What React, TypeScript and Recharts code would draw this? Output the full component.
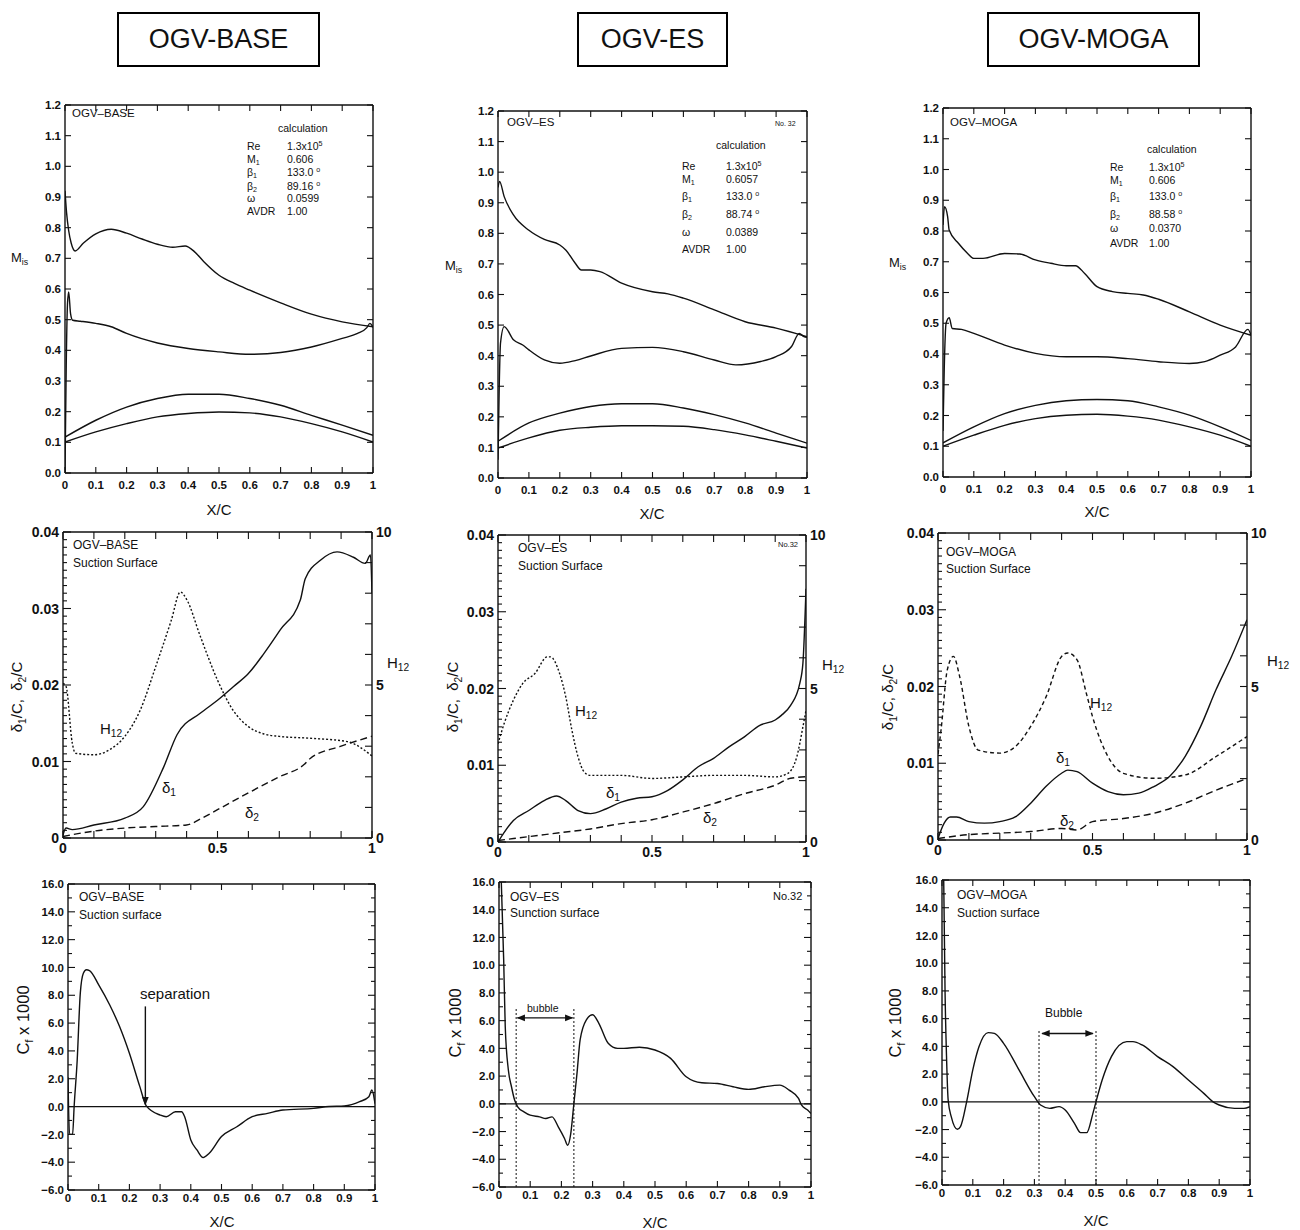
import React from "react";
import { LineChart, Line, XAxis, YAxis, ReferenceLine } from "recharts";

const FONT = '"Liberation Sans", Arial, Helvetica, sans-serif';
const INK = "#111";

// ---------- tick marks / labels ----------
const MIS_X_TICKS = [0, 0.1, 0.2, 0.3, 0.4, 0.5, 0.6, 0.7, 0.8, 0.9, 1];
const MIS_Y_TICKS = [0, 0.1, 0.2, 0.3, 0.4, 0.5, 0.6, 0.7, 0.8, 0.9, 1.0, 1.1, 1.2];
const BL_X_TICKS = [0, 0.1, 0.2, 0.3, 0.4, 0.5, 0.6, 0.7, 0.8, 0.9, 1];
const BL_X_LABELS = [0, 0.5, 1];
const BL_Y_LABELS = [0, 0.01, 0.02, 0.03, 0.04];
const H_TICKS = [0, 1, 2, 3, 4, 5, 6, 7, 8, 9, 10];
const H_LABELS = [0, 5, 10];
const CF_X_TICKS = [0, 0.1, 0.2, 0.3, 0.4, 0.5, 0.6, 0.7, 0.8, 0.9, 1];
const CF_Y_LABELS = [-6, -4, -2, 0, 2, 4, 6, 8, 10, 12, 14, 16];

const range = (a: number, b: number, step: number) => {
  const out: number[] = [];
  const n = Math.round((b - a) / step);
  for (let i = 0; i <= n; i++) out.push(+(a + i * step).toFixed(6));
  return out;
};

// ---------- top row: isentropic Mach number ----------
const PAIR_X = [0, 0.1, 0.2, 0.3, 0.4, 0.5, 0.6, 0.7, 0.8, 0.9, 1.0];

const baseSucX = [0, 0.005, 0.012, 0.02, 0.033, 0.06, 0.1, 0.15, 0.2, 0.25, 0.3, 0.35, 0.39, 0.42, 0.45, 0.5, 0.55, 0.6, 0.7, 0.8, 0.9, 1.0];
const baseSucY = [0.92, 0.85, 0.79, 0.75, 0.724, 0.75, 0.78, 0.795, 0.782, 0.763, 0.746, 0.736, 0.74, 0.722, 0.69, 0.645, 0.618, 0.596, 0.555, 0.518, 0.493, 0.477];
const basePrsX = [0, 0.004, 0.008, 0.012, 0.018, 0.025, 0.05, 0.1, 0.15, 0.2, 0.3, 0.4, 0.5, 0.6, 0.7, 0.8, 0.9, 0.95, 0.98, 0.99, 1.0];
const basePrsY = [0.0, 0.35, 0.55, 0.59, 0.52, 0.498, 0.495, 0.488, 0.477, 0.455, 0.424, 0.406, 0.395, 0.387, 0.393, 0.411, 0.439, 0.455, 0.474, 0.488, 0.475];
const baseUpY = [0.117, 0.172, 0.215, 0.243, 0.257, 0.257, 0.243, 0.221, 0.188, 0.156, 0.123];
const baseLoY = [0.101, 0.134, 0.161, 0.183, 0.194, 0.199, 0.196, 0.183, 0.161, 0.134, 0.101];

const esSucX = [0, 0.005, 0.02, 0.05, 0.1, 0.15, 0.2, 0.22, 0.25, 0.27, 0.3, 0.33, 0.4, 0.5, 0.55, 0.6, 0.7, 0.8, 0.9, 1.0];
const esSucY = [0.95, 0.97, 0.92, 0.86, 0.81, 0.78, 0.762, 0.745, 0.702, 0.68, 0.68, 0.675, 0.637, 0.609, 0.602, 0.588, 0.55, 0.511, 0.49, 0.462];
const esPrsX = [0, 0.004, 0.008, 0.02, 0.05, 0.08, 0.1, 0.15, 0.2, 0.25, 0.3, 0.4, 0.5, 0.6, 0.7, 0.77, 0.85, 0.9, 0.95, 0.975, 0.99, 1.0];
const esPrsY = [0.06, 0.3, 0.44, 0.495, 0.452, 0.435, 0.419, 0.386, 0.375, 0.384, 0.399, 0.424, 0.427, 0.413, 0.386, 0.37, 0.381, 0.397, 0.43, 0.473, 0.462, 0.46];
const esUpY = [0.12, 0.18, 0.212, 0.234, 0.243, 0.243, 0.229, 0.207, 0.18, 0.147, 0.114];
const esLoY = [0.098, 0.131, 0.156, 0.166, 0.171, 0.171, 0.169, 0.158, 0.141, 0.12, 0.098];

const mogaSucX = [0, 0.005, 0.015, 0.02, 0.05, 0.08, 0.1, 0.13, 0.2, 0.25, 0.3, 0.35, 0.4, 0.43, 0.46, 0.5, 0.55, 0.6, 0.65, 0.7, 0.8, 0.9, 1.0];
const mogaSucY = [0.82, 0.879, 0.847, 0.803, 0.76, 0.727, 0.711, 0.711, 0.727, 0.725, 0.706, 0.695, 0.687, 0.687, 0.662, 0.619, 0.603, 0.597, 0.592, 0.578, 0.537, 0.494, 0.461];
const mogaPrsX = [0, 0.004, 0.01, 0.02, 0.03, 0.06, 0.1, 0.2, 0.3, 0.4, 0.5, 0.6, 0.7, 0.8, 0.85, 0.9, 0.95, 0.99, 1.0];
const mogaPrsY = [0.15, 0.35, 0.5, 0.518, 0.483, 0.48, 0.467, 0.429, 0.402, 0.391, 0.391, 0.385, 0.375, 0.369, 0.375, 0.396, 0.423, 0.48, 0.461];
const mogaUpY = [0.111, 0.163, 0.206, 0.233, 0.248, 0.252, 0.248, 0.228, 0.201, 0.163, 0.119];
const mogaLoY = [0.1, 0.136, 0.168, 0.19, 0.201, 0.204, 0.198, 0.185, 0.163, 0.136, 0.1];

// ---------- middle row: boundary layer, suction surface ----------
const baseD1X = [0, 0.01, 0.03, 0.1, 0.2, 0.26, 0.326, 0.369, 0.444, 0.5, 0.552, 0.6, 0.65, 0.703, 0.768, 0.784, 0.833, 0.887, 0.94, 0.978, 0.995, 1.0];
const baseD1Y = [0.0004, 0.0013, 0.0011, 0.0017, 0.0026, 0.0041, 0.0093, 0.0135, 0.0163, 0.018, 0.0198, 0.0215, 0.0241, 0.0272, 0.0311, 0.0339, 0.0363, 0.0374, 0.0367, 0.0359, 0.037, 0.032];
const baseD2X = [0, 0.1, 0.2, 0.3, 0.4, 0.45, 0.5, 0.6, 0.7, 0.78, 0.8, 0.9, 1.0];
const baseD2Y = [0.0002, 0.0009, 0.0013, 0.0015, 0.0017, 0.0026, 0.0037, 0.0059, 0.008, 0.0096, 0.0104, 0.012, 0.0133];
const baseHX = [0, 0.01, 0.03, 0.04, 0.1, 0.15, 0.2, 0.25, 0.3, 0.35, 0.38, 0.4, 0.444, 0.5, 0.55, 0.6, 0.65, 0.7, 0.8, 0.92, 1.0];
const baseHY = [5.05, 4.95, 3.1, 2.77, 2.72, 2.88, 3.32, 4.18, 5.6, 7.1, 8.04, 7.8, 6.6, 5.16, 4.18, 3.64, 3.4, 3.32, 3.26, 3.15, 2.68];

const esD1X = [0, 0.05, 0.1, 0.15, 0.19, 0.22, 0.26, 0.3, 0.35, 0.4, 0.45, 0.5, 0.55, 0.6, 0.65, 0.7, 0.75, 0.8, 0.85, 0.9, 0.92, 0.95, 0.98, 0.99, 1.0];
const esD1Y = [0, 0.0028, 0.0041, 0.0054, 0.006, 0.0054, 0.0041, 0.0037, 0.0043, 0.0052, 0.0057, 0.0059, 0.0067, 0.0081, 0.0098, 0.0109, 0.0124, 0.0137, 0.0152, 0.0159, 0.0165, 0.0178, 0.0207, 0.0233, 0.033];
const esD2X = [0, 0.1, 0.2, 0.3, 0.4, 0.5, 0.6, 0.7, 0.8, 0.9, 0.95, 1.0];
const esD2Y = [0.0002, 0.0007, 0.0012, 0.0017, 0.0024, 0.0029, 0.0039, 0.005, 0.0063, 0.0074, 0.0083, 0.0085];
const esHX = [0, 0.02, 0.05, 0.08, 0.12, 0.16, 0.17, 0.2, 0.22, 0.24, 0.26, 0.28, 0.3, 0.4, 0.5, 0.6, 0.7, 0.8, 0.9, 0.94, 0.97, 0.99, 1.0];
const esHY = [3.2, 3.86, 4.62, 5.16, 5.49, 6.03, 6.03, 5.49, 4.73, 3.64, 2.77, 2.28, 2.17, 2.17, 2.07, 2.12, 2.17, 2.17, 2.12, 2.23, 2.77, 3.75, 4.29];

const mogaD1X = [0, 0.02, 0.04, 0.06, 0.1, 0.15, 0.2, 0.25, 0.3, 0.35, 0.4, 0.42, 0.45, 0.5, 0.55, 0.6, 0.65, 0.7, 0.75, 0.8, 0.85, 0.9, 0.95, 1.0];
const mogaD1Y = [0.0002, 0.0022, 0.003, 0.003, 0.0024, 0.0022, 0.0024, 0.003, 0.0048, 0.007, 0.0087, 0.0091, 0.0089, 0.0074, 0.0063, 0.0059, 0.0061, 0.007, 0.0083, 0.0109, 0.0148, 0.0196, 0.0239, 0.0287];
const mogaD2X = [0, 0.1, 0.2, 0.3, 0.4, 0.45, 0.5, 0.6, 0.7, 0.8, 0.9, 1.0];
const mogaD2Y = [0.0002, 0.0007, 0.0009, 0.0011, 0.0015, 0.0013, 0.0024, 0.0028, 0.0035, 0.0048, 0.0065, 0.008];
const mogaHX = [0, 0.01, 0.03, 0.05, 0.07, 0.1, 0.13, 0.2, 0.25, 0.3, 0.35, 0.4, 0.42, 0.45, 0.48, 0.5, 0.55, 0.6, 0.7, 0.8, 0.9, 1.0];
const mogaHY = [2.8, 3.6, 5.54, 5.98, 5.33, 3.7, 2.93, 2.83, 3.04, 3.7, 4.67, 5.98, 6.09, 5.87, 4.78, 4.02, 2.72, 2.17, 2.01, 2.12, 2.72, 3.37];

// ---------- bottom row: skin friction Cf x 1000 ----------
const baseCfX = [0, 0.005, 0.015, 0.02, 0.03, 0.04, 0.05, 0.06, 0.07, 0.1, 0.136, 0.168, 0.2, 0.234, 0.255, 0.3, 0.32, 0.35, 0.37, 0.38, 0.4, 0.42, 0.44, 0.46, 0.5, 0.55, 0.6, 0.65, 0.7, 0.8, 0.85, 0.9, 0.95, 0.98, 0.99, 1.0];
const baseCfY = [2.1, -2.0, -2.0, 0, 3.35, 8.14, 9.58, 9.83, 9.78, 8.75, 7.3, 5.75, 3.83, 1.43, 0.05, -0.61, -0.73, -0.37, -0.37, -0.73, -2.4, -3.12, -3.67, -3.36, -2.16, -1.45, -0.73, -0.49, -0.25, -0.13, 0, 0.04, 0.35, 0.71, 1.19, 0.2];

const esCfX = [0.006, 0.015, 0.02, 0.03, 0.04, 0.05, 0.06, 0.08, 0.1, 0.13, 0.15, 0.17, 0.19, 0.21, 0.22, 0.23, 0.24, 0.25, 0.26, 0.28, 0.3, 0.32, 0.35, 0.38, 0.4, 0.45, 0.5, 0.55, 0.6, 0.65, 0.7, 0.75, 0.8, 0.85, 0.9, 0.93, 0.96, 0.97, 0.99, 1.0];
const esCfY = [17, 10.4, 5.57, 2.44, 1.23, 0.27, -0.22, -0.58, -0.82, -0.94, -1.06, -0.94, -1.66, -2.5, -2.99, -2.15, 0.02, 2.2, 4.61, 6.06, 6.42, 5.81, 4.37, 4.0, 4.0, 4.08, 3.88, 3.28, 1.95, 1.52, 1.47, 1.23, 1.04, 1.23, 1.35, 0.99, 0.39, -0.1, -0.46, -0.7];

const mogaCfX = [0.005, 0.01, 0.015, 0.02, 0.03, 0.05, 0.06, 0.08, 0.1, 0.12, 0.15, 0.17, 0.2, 0.25, 0.3, 0.32, 0.35, 0.38, 0.4, 0.43, 0.45, 0.47, 0.49, 0.5, 0.52, 0.55, 0.6, 0.62, 0.65, 0.7, 0.75, 0.8, 0.85, 0.88, 0.9, 0.95, 0.98, 1.0];
const mogaCfY = [17, 7.82, 3.02, 0.13, -1.07, -1.98, -1.79, 0, 2.3, 3.97, 4.99, 4.94, 4.22, 2.3, 0.37, -0.23, -0.47, -0.35, -0.59, -1.55, -2.22, -2.22, -0.83, 0, 1.57, 3.26, 4.34, 4.34, 4.1, 3.26, 2.54, 1.57, 0.61, 0, -0.23, -0.47, -0.47, -0.35];

// separation / bubble markers (x/c)
const SEPARATION_X = 0.252;
const ES_BUBBLE = [0.055, 0.24];
const MOGA_BUBBLE = [0.315, 0.5];

type Pt = { x: number; y: number };
const zip = (xs: number[], ys: number[]): Pt[] => xs.map((x, i) => ({ x, y: ys[i] }));

type Side = "left" | "right" | "top" | "bottom";
type AxisSpec = {
  domain: [number, number];
  ticks: number[];
  labels: number[];
  fmt: (v: number) => string;
  major: number;
  minor: number;
};

const has = (arr: number[], v: number) => arr.some((a) => Math.abs(a - v) < 1e-9);
const minus = (s: string) => s.replace("-", "\u2212");

const misX: AxisSpec = {
  domain: [0, 1], ticks: MIS_X_TICKS, labels: MIS_X_TICKS,
  fmt: (v) => (v === 0 || v === 1 ? String(v) : v.toFixed(1)), major: 6, minor: 6,
};
const misY: AxisSpec = {
  domain: [0, 1.2], ticks: MIS_Y_TICKS, labels: MIS_Y_TICKS,
  fmt: (v) => v.toFixed(1), major: 6, minor: 6,
};
const blX: AxisSpec = {
  domain: [0, 1], ticks: BL_X_TICKS, labels: BL_X_LABELS,
  fmt: (v) => String(v), major: 7, minor: 7,
};
const blY: AxisSpec = {
  domain: [0, 0.04], ticks: range(0, 0.04, 0.001), labels: BL_Y_LABELS,
  fmt: (v) => (v === 0 ? "0" : v.toFixed(2)), major: 8, minor: 4,
};
const hY: AxisSpec = {
  domain: [0, 10], ticks: H_TICKS, labels: H_LABELS,
  fmt: (v) => String(v), major: 7, minor: 7,
};
const cfX: AxisSpec = {
  domain: [0, 1], ticks: CF_X_TICKS, labels: CF_X_TICKS,
  fmt: (v) => (v === 0 || v === 1 ? String(v) : v.toFixed(1)), major: 6, minor: 6,
};
const cfY: AxisSpec = {
  domain: [-6, 16], ticks: range(-6, 16, 1), labels: CF_Y_LABELS,
  fmt: (v) => minus(v.toFixed(1)), major: 7, minor: 4,
};

function makeTick(side: Side, ax: AxisSpec, showLabels: boolean, fs: number, weight: string, gap: number) {
  return (p: any) => {
    const v = p.payload.value as number;
    const lab = has(ax.labels, v);
    const len = lab ? ax.major : ax.minor;
    const x = p.x as number;
    const y = p.y as number;
    let x2 = x, y2 = y, tx = x, ty = y, dy = "0.36em";
    let anchor: "start" | "middle" | "end" = "middle";
    if (side === "bottom") { y2 = y - len; ty = y + gap; dy = "0.75em"; }
    else if (side === "top") { y2 = y + len; }
    else if (side === "left") { x2 = x + len; tx = x - 4; anchor = "end"; }
    else { x2 = x - len; tx = x + 4; anchor = "start"; }
    return (
      <g>
        <line x1={x} y1={y} x2={x2} y2={y2} stroke={INK} strokeWidth={1.1} />
        {showLabels && lab ? (
          <text x={tx} y={ty} dy={dy} textAnchor={anchor} fontSize={fs} fontWeight={weight} fontFamily={FONT} fill={INK}>
            {ax.fmt(v)}
          </text>
        ) : null}
      </g>
    );
  };
}

type Curve = { pts: Pt[]; dash?: string; right?: boolean };

function Panel(props: {
  box: [number, number, number, number];
  xa: AxisSpec;
  ya: AxisSpec;
  ra?: AxisSpec;
  fs: number;
  gap: number;
  curves: Curve[];
  children?: React.ReactNode;
}) {
  const { box, xa, ya, ra, fs, gap, curves, children } = props;
  const [L, T, W, H] = box;
  const padL = 46, padR = 40, padT = 12, padB = 26;
  const rr = ra ?? ya;
  const wt = "bold";
  const axisLine = { stroke: INK, strokeWidth: 1.4 };
  return (
    <div style={{ position: "absolute", left: L - padL, top: T - padT }}>
      <LineChart width={W + padL + padR} height={H + padT + padB} margin={{ top: padT - 1, right: padR - 1, bottom: 0, left: 0 }}>
        <XAxis dataKey="x" type="number" domain={xa.domain} allowDataOverflow ticks={xa.ticks} interval={0}
          height={padB} tickSize={0} tickMargin={0} tickLine={false} axisLine={axisLine}
          tick={makeTick("bottom", xa, true, fs, wt, gap)} />
        <XAxis xAxisId="t" orientation="top" dataKey="x" type="number" domain={xa.domain} allowDataOverflow ticks={xa.ticks} interval={0}
          height={1} tickSize={0} tickMargin={0} tickLine={false} axisLine={axisLine}
          tick={makeTick("top", xa, false, fs, wt, gap)} />
        <YAxis type="number" domain={ya.domain} allowDataOverflow ticks={ya.ticks} interval={0}
          width={padL} tickSize={0} tickMargin={0} tickLine={false} axisLine={axisLine}
          tick={makeTick("left", ya, true, fs, wt, gap)} />
        <YAxis yAxisId="r" orientation="right" type="number" domain={rr.domain} allowDataOverflow ticks={rr.ticks} interval={0}
          width={1} tickSize={0} tickMargin={0} tickLine={false} axisLine={axisLine}
          tick={makeTick("right", rr, !!ra, fs, wt, gap)} />
        {curves.map((c, i) => (
          <Line key={i} data={c.pts} dataKey="y" yAxisId={c.right ? "r" : 0} type="monotone" stroke={INK}
            strokeWidth={1.4} strokeDasharray={c.dash} dot={false} activeDot={false} isAnimationActive={false} />
        ))}
        {children}
      </LineChart>
    </div>
  );
}

const arrowShape = (both: boolean) => (p: any) => (
  <line x1={p.x1} y1={p.y1} x2={p.x2} y2={p.y2} stroke={INK} strokeWidth={1.4}
    markerEnd="url(#ah)" markerStart={both ? "url(#ah)" : undefined} />
);

function T({ x, y, s = 12, w = "normal", center, children }: { x: number; y: number; s?: number; w?: string; center?: boolean; children: React.ReactNode }) {
  return (
    <div style={{ position: "absolute", left: x, top: y - s * 0.49, fontSize: s, fontWeight: w as any, lineHeight: 1, whiteSpace: "nowrap", transform: center ? "translateX(-50%)" : undefined }}>
      {children}
    </div>
  );
}

function R({ x, y, s, children }: { x: number; y: number; s: number; children: React.ReactNode }) {
  return (
    <div style={{ position: "absolute", left: x, top: y, fontSize: s, lineHeight: 1, whiteSpace: "nowrap", transform: "translate(-50%, -50%) rotate(-90deg)" }}>
      {children}
    </div>
  );
}

const Sub = ({ children }: { children: React.ReactNode }) => (
  <span style={{ fontSize: "0.68em", position: "relative", top: "0.35em" }}>{children}</span>
);
const Sup = ({ children }: { children: React.ReactNode }) => (
  <span style={{ fontSize: "0.68em", position: "relative", top: "-0.5em" }}>{children}</span>
);

function Table({ lx, vx, cx, cy, ys, vals }: { lx: number; vx: number; cx: number; cy: number; ys: number[]; vals: string[] }) {
  const names = [<>Re</>, <>M<Sub>1</Sub></>, <>β<Sub>1</Sub></>, <>β<Sub>2</Sub></>, <>ω</>, <>AVDR</>];
  return (
    <>
      <T x={cx} y={cy} s={10.5}>calculation</T>
      {names.map((n, i) => (
        <T key={"n" + i} x={lx} y={ys[i]} s={10.5}>{n}</T>
      ))}
      {vals.map((v, i) => (
        <T key={"v" + i} x={vx} y={ys[i]} s={10.5}>
          {i === 0 ? <>1.3x10<Sup>5</Sup></> : i === 2 || i === 3 ? <>{v} <Sup>o</Sup></> : v}
        </T>
      ))}
    </>
  );
}

const HEADERS = [
  { label: "OGV-BASE", x: 117, w: 203 },
  { label: "OGV-ES", x: 577, w: 151 },
  { label: "OGV-MOGA", x: 987, w: 213 },
];

export default function App() {
  const dash = "7 4";
  const dot = "2 2";
  return (
    <div style={{ position: "absolute", left: 0, top: 0, width: 1300, height: 1230, background: "#fff", fontFamily: FONT, color: INK, overflow: "hidden" }}>
      <svg width={0} height={0} style={{ position: "absolute" }}>
        <defs>
          <marker id="ah" viewBox="0 0 10 10" refX="9" refY="5" markerWidth="6" markerHeight="6" orient="auto-start-reverse">
            <path d="M0,1 L10,5 L0,9 z" fill={INK} />
          </marker>
        </defs>
      </svg>

      {HEADERS.map((h) => (
        <div key={h.label} style={{ position: "absolute", left: h.x, top: 12, width: h.w, height: 55, border: "2px solid #000", boxSizing: "border-box", display: "flex", alignItems: "center", justifyContent: "center", fontSize: 27 }}>
          {h.label}
        </div>
      ))}

      {/* ---- top row ---- */}
      <Panel box={[65, 105, 308, 368]} xa={misX} ya={misY} fs={11.5} gap={7.5} curves={[
        { pts: zip(baseSucX, baseSucY) }, { pts: zip(basePrsX, basePrsY) },
        { pts: zip(PAIR_X, baseUpY) }, { pts: zip(PAIR_X, baseLoY) },
      ]} />
      <Panel box={[498, 111, 309, 367]} xa={misX} ya={misY} fs={11.5} gap={7.5} curves={[
        { pts: zip(esSucX, esSucY) }, { pts: zip(esPrsX, esPrsY) },
        { pts: zip(PAIR_X, esUpY) }, { pts: zip(PAIR_X, esLoY) },
      ]} />
      <Panel box={[943, 108, 308, 369]} xa={misX} ya={misY} fs={11.5} gap={7.5} curves={[
        { pts: zip(mogaSucX, mogaSucY) }, { pts: zip(mogaPrsX, mogaPrsY) },
        { pts: zip(PAIR_X, mogaUpY) }, { pts: zip(PAIR_X, mogaLoY) },
      ]} />

      <T x={72} y={114} s={11.5}>OGV–BASE</T>
      <Table lx={247} vx={287} cx={278} cy={128} ys={[146, 159, 172, 186, 198, 211]} vals={["", "0.606", "133.0", "89.16", "0.0599", "1.00"]} />
      <T x={507} y={123} s={11.5}>OGV–ES</T>
      <T x={775} y={123} s={7}>No. 32</T>
      <Table lx={682} vx={726} cx={716} cy={145} ys={[166, 179, 196, 214, 232, 249]} vals={["", "0.6057", "133.0", "88.74", "0.0389", "1.00"]} />
      <T x={950} y={123} s={11.5}>OGV–MOGA</T>
      <Table lx={1110} vx={1149} cx={1147} cy={149} ys={[167, 180, 196, 214, 228, 243]} vals={["", "0.606", "133.0", "88.58", "0.0370", "1.00"]} />

      <T x={11} y={257} s={13}>M<Sub>is</Sub></T>
      <T x={445} y={265} s={13}>M<Sub>is</Sub></T>
      <T x={889} y={262} s={13}>M<Sub>is</Sub></T>
      <T x={219} y={509} s={15} center>X/C</T>
      <T x={652} y={513} s={15} center>X/C</T>
      <T x={1097} y={511} s={15} center>X/C</T>

      {/* ---- middle row ---- */}
      <Panel box={[63, 532, 309, 306]} xa={blX} ya={blY} ra={hY} fs={14} gap={4} curves={[
        { pts: zip(baseD1X, baseD1Y) }, { pts: zip(baseD2X, baseD2Y), dash },
        { pts: zip(baseHX, baseHY), dash: dot, right: true },
      ]} />
      <Panel box={[498, 535, 308, 307]} xa={blX} ya={blY} ra={hY} fs={14} gap={4} curves={[
        { pts: zip(esD1X, esD1Y) }, { pts: zip(esD2X, esD2Y), dash },
        { pts: zip(esHX, esHY), dash: dot, right: true },
      ]} />
      <Panel box={[938, 533, 309, 307]} xa={blX} ya={blY} ra={hY} fs={14} gap={4} curves={[
        { pts: zip(mogaD1X, mogaD1Y) }, { pts: zip(mogaD2X, mogaD2Y), dash },
        { pts: zip(mogaHX, mogaHY), dash: "4 3", right: true },
      ]} />

      <T x={73} y={545} s={12}>OGV–BASE</T>
      <T x={73} y={563} s={12}>Suction Surface</T>
      <T x={518} y={548} s={12}>OGV–ES</T>
      <T x={518} y={566} s={12}>Suction Surface</T>
      <T x={778} y={545} s={7.5}>No.32</T>
      <T x={946} y={552} s={12}>OGV–MOGA</T>
      <T x={946} y={569} s={12}>Suction Surface</T>

      <T x={100} y={728} s={15}>H<Sub>12</Sub></T>
      <T x={162} y={787} s={15}>δ<Sub>1</Sub></T>
      <T x={245} y={812} s={15}>δ<Sub>2</Sub></T>
      <T x={575} y={710} s={15}>H<Sub>12</Sub></T>
      <T x={606} y={792} s={15}>δ<Sub>1</Sub></T>
      <T x={703} y={817} s={15}>δ<Sub>2</Sub></T>
      <T x={1090} y={702} s={15}>H<Sub>12</Sub></T>
      <T x={1056} y={757} s={15}>δ<Sub>1</Sub></T>
      <T x={1060} y={820} s={15}>δ<Sub>2</Sub></T>

      <T x={387} y={662} s={15}>H<Sub>12</Sub></T>
      <T x={822} y={664} s={15}>H<Sub>12</Sub></T>
      <T x={1267} y={660} s={15}>H<Sub>12</Sub></T>
      <R x={17} y={697} s={15}>δ<Sub>1</Sub>/C,&nbsp; δ<Sub>2</Sub>/C</R>
      <R x={453} y={697} s={15}>δ<Sub>1</Sub>/C,&nbsp; δ<Sub>2</Sub>/C</R>
      <R x={888} y={697} s={15}>δ<Sub>1</Sub>/C,&nbsp;δ<Sub>2</Sub>/C</R>

      {/* ---- bottom row ---- */}
      <Panel box={[68, 884, 307, 306]} xa={cfX} ya={cfY} fs={11.5} gap={3.5} curves={[{ pts: zip(baseCfX, baseCfY) }]}>
        {[
          <ReferenceLine key="z" y={0} stroke={INK} strokeWidth={1.3} />,
          <ReferenceLine key="s" segment={[{ x: SEPARATION_X, y: 7.2 }, { x: SEPARATION_X, y: 0.15 }]} shape={arrowShape(false)} />,
        ]}
      </Panel>
      <Panel box={[499, 882, 312, 305]} xa={cfX} ya={cfY} fs={11.5} gap={3.5} curves={[{ pts: zip(esCfX, esCfY) }]}>
        {[
          <ReferenceLine key="z" y={0} stroke={INK} strokeWidth={1.3} />,
          <ReferenceLine key="b1" segment={[{ x: ES_BUBBLE[0], y: -6 }, { x: ES_BUBBLE[0], y: 6.9 }]} stroke={INK} strokeWidth={1} strokeDasharray="2 2" />,
          <ReferenceLine key="b2" segment={[{ x: ES_BUBBLE[1], y: -6 }, { x: ES_BUBBLE[1], y: 6.9 }]} stroke={INK} strokeWidth={1} strokeDasharray="2 2" />,
          <ReferenceLine key="a" segment={[{ x: ES_BUBBLE[0] + 0.004, y: 6.2 }, { x: ES_BUBBLE[1] - 0.004, y: 6.2 }]} shape={arrowShape(true)} />,
        ]}
      </Panel>
      <Panel box={[942, 880, 308, 305]} xa={cfX} ya={cfY} fs={11.5} gap={3.5} curves={[{ pts: zip(mogaCfX, mogaCfY) }]}>
        {[
          <ReferenceLine key="z" y={0} stroke={INK} strokeWidth={1.3} />,
          <ReferenceLine key="b1" segment={[{ x: MOGA_BUBBLE[0], y: -6 }, { x: MOGA_BUBBLE[0], y: 5.2 }]} stroke={INK} strokeWidth={1} strokeDasharray="2 2" />,
          <ReferenceLine key="b2" segment={[{ x: MOGA_BUBBLE[1], y: -6 }, { x: MOGA_BUBBLE[1], y: 5.2 }]} stroke={INK} strokeWidth={1} strokeDasharray="2 2" />,
          <ReferenceLine key="a" segment={[{ x: MOGA_BUBBLE[0] + 0.01, y: 4.93 }, { x: MOGA_BUBBLE[1] - 0.01, y: 4.93 }]} shape={arrowShape(true)} />,
        ]}
      </Panel>

      <T x={79} y={897} s={12}>OGV–BASE</T>
      <T x={79} y={915} s={12}>Suction surface</T>
      <T x={140} y={993} s={15}>separation</T>
      <T x={510} y={897} s={12}>OGV–ES</T>
      <T x={510} y={913} s={12}>Sunction surface</T>
      <T x={773} y={896} s={11}>No.32</T>
      <T x={527} y={1008} s={10.5}>bubble</T>
      <T x={957} y={895} s={12}>OGV–MOGA</T>
      <T x={957} y={913} s={12}>Suction surface</T>
      <T x={1045} y={1013} s={12}>Bubble</T>

      <R x={23} y={1020} s={16.5}>C<Sub>f</Sub> x 1000</R>
      <R x={455} y={1023} s={16.5}>C<Sub>f</Sub> x 1000</R>
      <R x={895} y={1023} s={16.5}>C<Sub>f</Sub>&nbsp;x 1000</R>
      <T x={222} y={1221} s={15} center>X/C</T>
      <T x={655} y={1222} s={15} center>X/C</T>
      <T x={1096} y={1220} s={15} center>X/C</T>
    </div>
  );
}
